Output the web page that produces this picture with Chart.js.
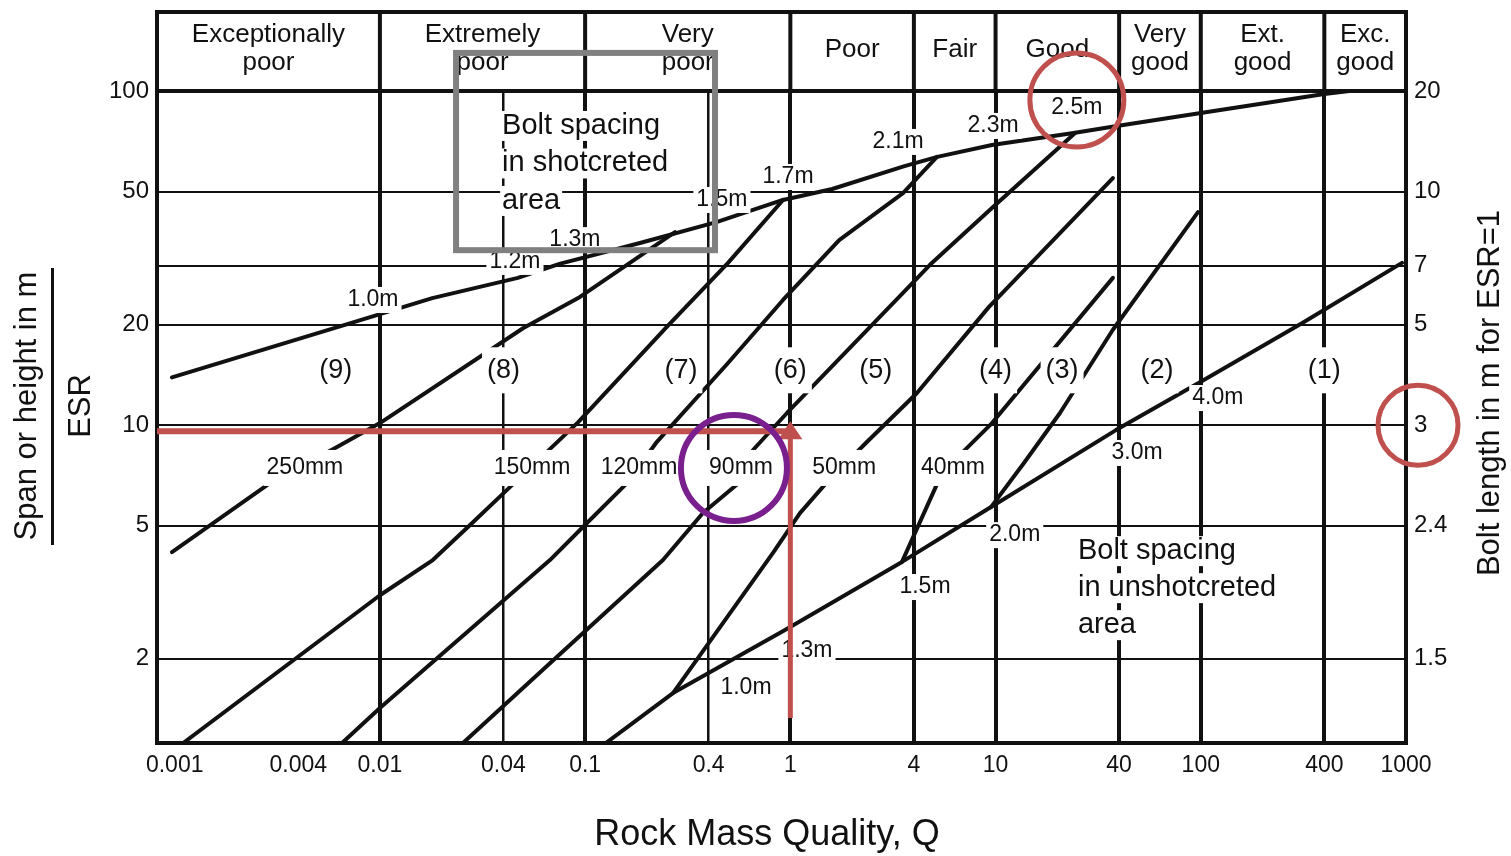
<!DOCTYPE html>
<html>
<head>
<meta charset="utf-8">
<title>Q-system support chart</title>
<script src="https://cdn.jsdelivr.net/npm/chart.js@4.4.1/dist/chart.umd.min.js"></script>
<style>
  html, body { margin: 0; padding: 0; background: #ffffff; }
  canvas { display: block; }
</style>
</head>
<body>
<canvas id="chart" width="1511" height="856" style="width:1511px;height:856px"></canvas>
<script>
const FONT = "'Liberation Sans', Arial, Helvetica, sans-serif";
const INK = '#111111';
const RED = '#c0504d';
const PURPLE = '#7a1f8e';
const GRAY = '#808080';

// ---- Rock mass quality axis (Q) ----
const Q_MIN = 0.00082;
const Q_MAX = 1000;
const Q_TICKS = [0.001, 0.004, 0.01, 0.04, 0.1, 0.4, 1, 4, 10, 40, 100, 400, 1000];
const Q_TICK_LABELS = ['0.001', '0.004', '0.01', '0.04', '0.1', '0.4', '1', '4', '10', '40', '100', '400', '1000'];
const Q_MAJOR_LINES = [0.01, 0.1, 1, 4, 10, 40, 100, 400];
const Q_MINOR_LINES = [0.04, 0.4];

// ---- Span / ESR axis and equivalent bolt length (ESR = 1) ----
const SPAN_MIN = 1.12;
const SPAN_MAX = 100;
const SPAN_TICKS = [2, 5, 10, 20, 30, 50, 100];
const SPAN_TICK_LABELS = ['2', '5', '10', '20', '', '50', '100'];
const BOLT_LENGTH_LABELS = ['1.5', '2.4', '3', '5', '7', '10', '20'];

// ---- Rock mass classes across the top ----
const CLASS_NAMES = [
  ['Exceptionally', 'poor'], ['Extremely', 'poor'], ['Very', 'poor'],
  ['Poor'], ['Fair'], ['Good'], ['Very', 'good'], ['Ext.', 'good'], ['Exc.', 'good']
];
const CLASS_LIMITS = [Q_MIN, 0.01, 0.1, 1, 4, 10, 40, 100, 400, 1000];

// ---- Boundary curves (Q, span/ESR) ----
// Bolt spacing in shotcreted area (upper curve)
const shotcreteBoltQ    = [0.00097, 0.0072, 0.018, 0.047, 0.075, 0.185, 0.44, 0.92, 1.6, 3.6, 5.2, 9.6, 24, 39, 100, 400, 530];
const shotcreteBoltSpan = [13.9, 20.2, 24.0, 27.6, 30.4, 35.1, 40.6, 47.2, 50.9, 59.6, 63.5, 68.9, 74.9, 78.6, 85.9, 97.9, 100];
// Category boundaries, labelled by shotcrete thickness
const shotcrete250Q    = [0.00097, 0.00282, 0.00618, 0.01, 0.0498, 0.0944, 0.274];
const shotcrete250Span = [4.17, 6.62, 8.61, 10.15, 19.5, 24.2, 37.8];
const shotcrete150Q    = [0.0011, 0.01, 0.0181, 0.0275, 0.043, 0.0923, 0.25, 0.497, 0.921];
const shotcrete150Span = [1.12, 3.10, 3.95, 5.03, 6.53, 10.2, 19.7, 30.6, 47.2];
const shotcrete120Q    = [0.00654, 0.01, 0.0674, 0.0976, 0.16, 0.2215, 0.497, 0.921, 1.73, 3.54, 5.18];
const shotcrete120Span = [1.12, 1.425, 3.95, 4.96, 6.71, 8.85, 15.35, 23.7, 35.8, 49.5, 63.5];
const shotcrete90Q     = [0.0254, 0.0674, 0.2395, 0.375, 0.568, 0.658, 0.963, 3.54, 4.79, 9.72, 24.4];
const shotcrete90Span  = [1.12, 1.94, 3.95, 5.46, 6.76, 8.43, 10.88, 24.9, 30.2, 45.0, 74.9];
const shotcrete50Q     = [0.268, 0.823, 1.114, 1.509, 2.36, 4.14, 9.29, 37.3];
const shotcrete50Span  = [1.58, 4.15, 5.46, 6.76, 8.91, 12.49, 22.6, 54.9];
const shotcrete40Q     = [3.50, 5.48, 6.94, 9.61, 37.3];
const shotcrete40Span  = [3.90, 7.19, 8.32, 10.15, 27.6];
const spotBoltQ        = [9.50, 13.75, 20.6, 37.3, 96.9];
const spotBoltSpan     = [5.69, 7.71, 10.88, 19.3, 43.4];
// Bolt spacing in unshotcreted area (lower curve)
const plainBoltQ    = [0.128, 0.268, 0.942, 3.50, 9.50, 38.6, 100, 311, 956];
const plainBoltSpan = [1.127, 1.58, 2.44, 3.90, 5.69, 9.67, 13.5, 20.2, 30.6];

// ---- Labels placed along the curves (text, Q, span/ESR) ----
const SHOTCRETE_BOLT_TAGS = ['1.0m', '1.2m', '1.3m', '1.5m', '1.7m', '2.1m', '2.3m', '2.5m'];
const SHOTCRETE_BOLT_TAG_Q = [0.00925, 0.0455, 0.0892, 0.464, 0.974, 3.35, 9.72, 24.9];
const SHOTCRETE_BOLT_TAG_SPAN = [23.7, 30.8, 35.8, 47.2, 55.3, 70.4, 78.6, 88.9];
const PLAIN_BOLT_TAGS = ['1.0m', '1.3m', '1.5m', '2.0m', '3.0m', '4.0m'];
const PLAIN_BOLT_TAG_Q = [0.608, 1.205, 4.53, 12.4, 48.9, 121];
const PLAIN_BOLT_TAG_SPAN = [1.636, 2.11, 3.28, 4.69, 8.26, 12.06];
const THICKNESS_TAGS = ['250mm', '150mm', '120mm', '90mm', '50mm', '40mm'];
const THICKNESS_TAG_Q = [0.00431, 0.0551, 0.183, 0.575, 1.83, 6.20];
const THICKNESS_TAG_SPAN = 7.45;
const CATEGORY_TAGS = ['(9)', '(8)', '(7)', '(6)', '(5)', '(4)', '(3)', '(2)', '(1)'];
const CATEGORY_TAG_Q = [0.0061, 0.04, 0.293, 1, 2.61, 10, 21.1, 61.2, 400];
const CATEGORY_TAG_SPAN = 14.6;

// ---- Worked example: span/ESR = 10 with Q = 1 ----
const EXAMPLE_Q = 1;
const EXAMPLE_SPAN = 10;
const EXAMPLE_SPAN_FOOT = 1.33;

function curve(label, qs, spans) {
  return {
    label,
    data: qs.map((q, i) => ({ x: q, y: spans[i] })),
    borderColor: INK,
    borderWidth: 4,
    pointRadius: 0,
    tension: 0,
    fill: false,
    borderJoinStyle: 'round',
    borderCapStyle: 'round'
  };
}

function labelWithBg(c, text, x, y, size, boxH, padX, align) {
  align = align || 'center';
  c.font = size + 'px ' + FONT;
  c.textAlign = align;
  c.textBaseline = 'middle';
  const w = c.measureText(text).width;
  const x0 = align === 'center' ? x - w / 2 : (align === 'left' ? x : x - w);
  if (boxH) {
    c.fillStyle = '#ffffff';
    c.fillRect(x0 - padX, y - boxH / 2, w + 2 * padX, boxH);
  }
  c.fillStyle = INK;
  c.fillText(text, x, y);
}

const decor = {
  id: 'decor',
  afterDatasetsDraw(chart) {
    const c = chart.ctx;
    const X = v => chart.scales.x.getPixelForValue(v);
    const Y = v => chart.scales.y.getPixelForValue(v);
    c.save();
    SHOTCRETE_BOLT_TAGS.forEach((t, i) =>
      labelWithBg(c, t, X(SHOTCRETE_BOLT_TAG_Q[i]), Y(SHOTCRETE_BOLT_TAG_SPAN[i]), 23, 26, 3));
    PLAIN_BOLT_TAGS.forEach((t, i) =>
      labelWithBg(c, t, X(PLAIN_BOLT_TAG_Q[i]), Y(PLAIN_BOLT_TAG_SPAN[i]), 23, 26, 3));
    THICKNESS_TAGS.forEach((t, i) =>
      labelWithBg(c, t, X(THICKNESS_TAG_Q[i]), Y(THICKNESS_TAG_SPAN), 23, 36, 3));
    CATEGORY_TAGS.forEach((t, i) =>
      labelWithBg(c, t, X(CATEGORY_TAG_Q[i]), Y(CATEGORY_TAG_SPAN), 27, 46, 5));

    // Area notes
    const note1 = ['Bolt spacing', 'in shotcreted', 'area'];
    note1.forEach((t, i) => labelWithBg(c, t, X(0.0394), Y(78.6) + i * 37.5, 29, 30, 2, 'left'));
    const note2 = ['Bolt spacing', 'in unshotcreted', 'area'];
    note2.forEach((t, i) => labelWithBg(c, t, X(25.2), Y(4.2) + i * 37, 29, 30, 2, 'left'));
    c.restore();
  },
  afterDraw(chart) {
    const c = chart.ctx;
    const a = chart.chartArea;
    const X = v => chart.scales.x.getPixelForValue(v);
    const Y = v => chart.scales.y.getPixelForValue(v);
    const frameTop = 12;
    c.save();

    // Header cells with the rock mass classes
    c.strokeStyle = INK;
    c.lineWidth = 4;
    Q_MAJOR_LINES.forEach(q => {
      c.beginPath();
      c.moveTo(X(q), frameTop);
      c.lineTo(X(q), a.top);
      c.stroke();
    });
    c.fillStyle = INK;
    c.textAlign = 'center';
    c.textBaseline = 'alphabetic';
    c.font = '26px ' + FONT;
    CLASS_NAMES.forEach((lines, i) => {
      const cx = (X(CLASS_LIMITS[i]) + X(CLASS_LIMITS[i + 1])) / 2;
      if (lines.length === 1) {
        c.fillText(lines[0], cx, 57);
      } else {
        c.fillText(lines[0], cx, 42);
        c.fillText(lines[1], cx, 70);
      }
    });

    // Outer frame
    c.lineWidth = 4;
    c.strokeRect(a.left, frameTop, a.right - a.left, a.bottom - frameTop);

    // Axis titles
    c.fillStyle = INK;
    c.textBaseline = 'middle';
    c.textAlign = 'center';
    c.font = '36px ' + FONT;
    c.fillText('Rock Mass Quality, Q', 767, 835);

    c.save();
    c.translate(27, 406);
    c.rotate(-Math.PI / 2);
    c.font = '31px ' + FONT;
    c.fillText('Span or height in m', 0, 0);
    c.restore();
    c.fillRect(51, 268, 3, 277);
    c.save();
    c.translate(81, 406);
    c.rotate(-Math.PI / 2);
    c.font = '31px ' + FONT;
    c.fillText('ESR', 0, 0);
    c.restore();

    c.save();
    c.translate(1490, 393);
    c.rotate(-Math.PI / 2);
    c.font = '31px ' + FONT;
    c.fillText('Bolt length in m for ESR=1', 0, 0);
    c.restore();

    // Shotcreted bolt spacing note frame
    c.strokeStyle = GRAY;
    c.lineWidth = 6;
    const bx0 = X(0.0235), bx1 = X(0.4294), by0 = Y(130), by1 = Y(33.4);
    c.strokeRect(bx0, by0, bx1 - bx0, by1 - by0);

    // Worked example path: span/ESR 10 across to Q = 1
    const ex = X(EXAMPLE_Q), ey = Y(EXAMPLE_SPAN);
    c.strokeStyle = RED;
    c.fillStyle = RED;
    c.lineWidth = 6;
    c.beginPath();
    c.moveTo(a.left, ey + 6);
    c.lineTo(ex + 2, ey + 6);
    c.stroke();
    c.lineWidth = 5;
    c.beginPath();
    c.moveTo(ex, Y(EXAMPLE_SPAN_FOOT));
    c.lineTo(ex, ey + 10);
    c.stroke();
    c.beginPath();
    c.moveTo(ex, ey - 4);
    c.lineTo(ex + 12, ey + 14);
    c.lineTo(ex - 12, ey + 14);
    c.closePath();
    c.fill();

    // Highlight rings
    c.lineWidth = 5;
    c.strokeStyle = RED;
    c.beginPath();
    c.arc(X(24.9), Y(94), 47, 0, Math.PI * 2);
    c.stroke();
    c.beginPath();
    c.arc(a.right + 12, Y(EXAMPLE_SPAN), 40, 0, Math.PI * 2);
    c.stroke();
    c.strokeStyle = PURPLE;
    c.lineWidth = 6;
    c.beginPath();
    c.arc(X(0.531), Y(THICKNESS_TAG_SPAN), 53, 0, Math.PI * 2);
    c.stroke();

    c.restore();
  }
};

const ctx = document.getElementById('chart').getContext('2d');
const isMajor = v => Q_MAJOR_LINES.includes(v);
const isMinor = v => Q_MINOR_LINES.includes(v);

new Chart(ctx, {
  type: 'line',
  data: {
    datasets: [
      curve('Bolt spacing in shotcreted area', shotcreteBoltQ, shotcreteBoltSpan),
      curve('250 mm', shotcrete250Q, shotcrete250Span),
      curve('150 mm', shotcrete150Q, shotcrete150Span),
      curve('120 mm', shotcrete120Q, shotcrete120Span),
      curve('90 mm', shotcrete90Q, shotcrete90Span),
      curve('50 mm', shotcrete50Q, shotcrete50Span),
      curve('40 mm', shotcrete40Q, shotcrete40Span),
      curve('Spot bolting', spotBoltQ, spotBoltSpan),
      curve('Bolt spacing in unshotcreted area', plainBoltQ, plainBoltSpan)
    ]
  },
  options: {
    responsive: false,
    animation: false,
    devicePixelRatio: 1,
    layout: { padding: { top: 91, left: 0, right: 0, bottom: 0 } },
    plugins: { legend: { display: false }, tooltip: { enabled: false } },
    scales: {
      x: {
        type: 'logarithmic',
        min: Q_MIN,
        max: Q_MAX,
        bounds: 'data',
        afterBuildTicks: s => { s.ticks = Q_TICKS.map(v => ({ value: v })); },
        afterFit: s => { s.height = 113; },
        border: { display: false },
        grid: {
          drawTicks: false,
          lineWidth: g => (g.tick && isMajor(g.tick.value)) ? 4 : 2.5,
          color: g => (g.tick && (isMajor(g.tick.value) || isMinor(g.tick.value))) ? INK : 'rgba(0,0,0,0)'
        },
        ticks: {
          autoSkip: false,
          maxRotation: 0,
          minRotation: 0,
          padding: 9,
          color: INK,
          font: { family: FONT, size: 23 },
          callback: v => Q_TICK_LABELS[Q_TICKS.indexOf(v)]
        }
      },
      y: {
        type: 'logarithmic',
        position: 'left',
        min: SPAN_MIN,
        max: SPAN_MAX,
        bounds: 'data',
        afterBuildTicks: s => { s.ticks = SPAN_TICKS.map(v => ({ value: v })); },
        afterFit: s => { s.width = 157; },
        border: { display: false },
        grid: {
          drawTicks: false,
          lineWidth: g => (g.tick && g.tick.value === 100) ? 4 : 2,
          color: INK
        },
        ticks: {
          padding: 8,
          color: INK,
          font: { family: FONT, size: 24 },
          callback: v => SPAN_TICK_LABELS[SPAN_TICKS.indexOf(v)]
        }
      },
      y2: {
        type: 'logarithmic',
        position: 'right',
        min: SPAN_MIN,
        max: SPAN_MAX,
        bounds: 'data',
        afterBuildTicks: s => { s.ticks = SPAN_TICKS.map(v => ({ value: v })); },
        afterFit: s => { s.width = 105; },
        border: { display: false },
        grid: { display: false, drawTicks: false },
        ticks: {
          padding: 8,
          color: INK,
          font: { family: FONT, size: 24 },
          callback: v => BOLT_LENGTH_LABELS[SPAN_TICKS.indexOf(v)]
        }
      }
    }
  },
  plugins: [decor]
});
</script>
</body>
</html>
